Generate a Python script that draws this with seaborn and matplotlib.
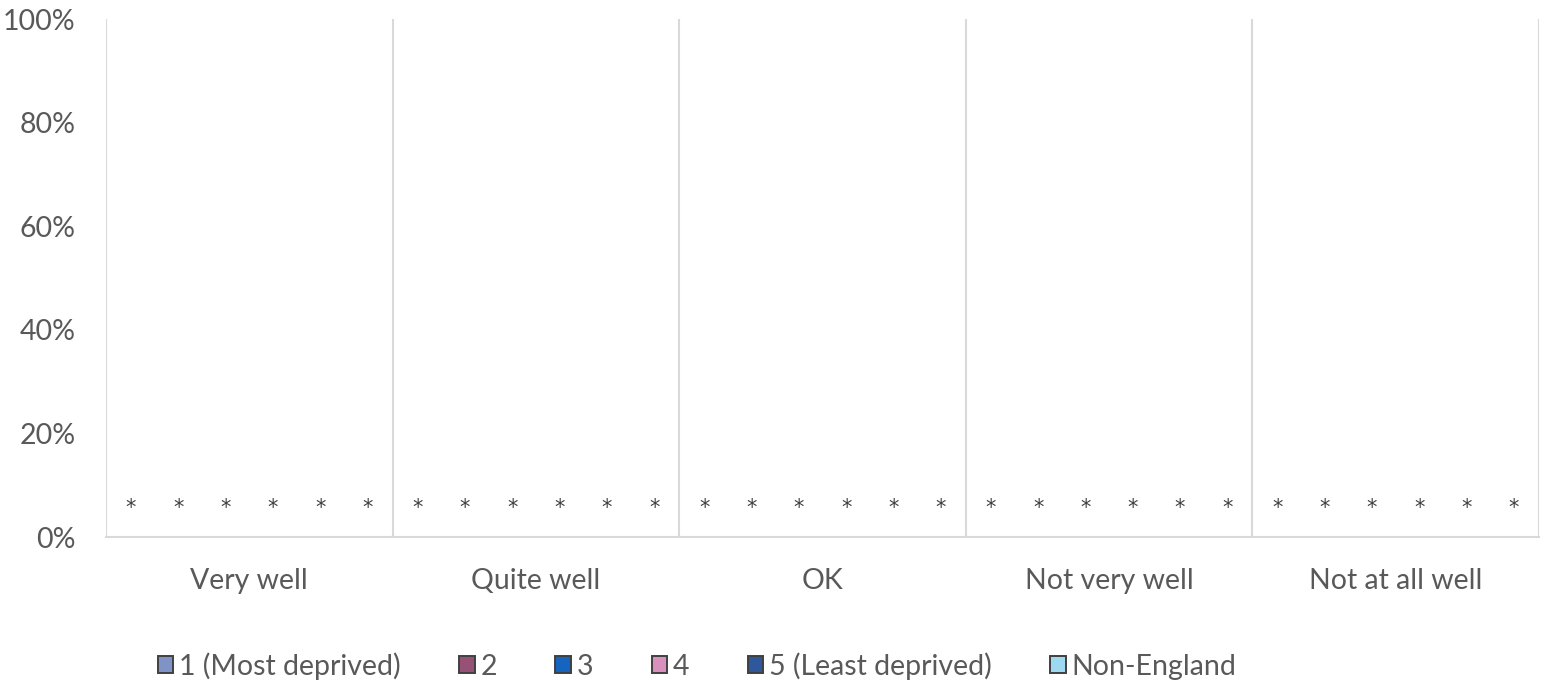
import matplotlib
matplotlib.use("Agg")
import matplotlib.pyplot as plt
import seaborn as sns
import pandas as pd
from matplotlib.patches import Patch

categories = ["Very well", "Quite well", "OK", "Not very well", "Not at all well"]
groups = ["1 (Most deprived)", "2", "3", "4", "5 (Least deprived)", "Non-England"]
colors = ["#7F93C6", "#975076", "#1565C0", "#DA90BC", "#2E579C", "#9ED9F2"]
# all values suppressed (shown as "*")
values = [
    [0, 0, 0, 0, 0, 0],
    [0, 0, 0, 0, 0, 0],
    [0, 0, 0, 0, 0, 0],
    [0, 0, 0, 0, 0, 0],
    [0, 0, 0, 0, 0, 0],
]
labels = "*"
yticks = [0, 20, 40, 60, 80, 100]

rows = []
for ci, c in enumerate(categories):
    for gi, g in enumerate(groups):
        rows.append({"category": c, "group": g, "value": values[ci][gi]})
df = pd.DataFrame(rows)

sns.set_theme(style="white")
plt.rcParams["font.family"] = ["Lato", "DejaVu Sans"]
txt = "#595959"

fig = plt.figure(figsize=(15.45, 6.85), dpi=100)
ax = fig.add_axes([106 / 1545, 1 - 537 / 685, (1539 - 106) / 1545, (537 - 19) / 685])

sns.barplot(data=df, x="category", y="value", hue="group", order=categories,
            hue_order=groups, palette=colors, width=0.99, linewidth=0,
            legend=False, ax=ax)

for p in ax.patches:
    cx = p.get_x() + p.get_width() / 2
    ax.text(cx, 5.6, labels, ha="center", va="center", fontsize=15,
            color="#404040", family="DejaVu Sans")

ax.set_ylim(0, 100)
ax.set_xlim(-0.5, len(categories) - 0.5)
ax.set_yticks(yticks)
ax.set_yticklabels([f"{v}%" for v in yticks])
for b in range(len(categories) + 1):
    ax.axvline(b - 0.5, color="#D9D9D9", lw=1.5, zorder=0)
for s in ["top", "right", "left"]:
    ax.spines[s].set_visible(False)
ax.spines["bottom"].set_color("#D9D9D9")
ax.spines["bottom"].set_linewidth(1.5)
ax.tick_params(axis="both", length=0, labelsize=20.5, colors=txt)
ax.tick_params(axis="x", pad=22)
ax.tick_params(axis="y", pad=22)
ax.set_xlabel("")
ax.set_ylabel("")

handles = [Patch(facecolor=c, edgecolor="#404040", linewidth=1.4, label=g)
           for c, g in zip(colors, groups)]
leg = fig.legend(handles=handles, loc="center", bbox_to_anchor=(697 / 1545, 1 - 666 / 685),
                 ncol=6, frameon=False, fontsize=20.5, handlelength=0.55, handleheight=0.55,
                 handletextpad=0.2, columnspacing=2.05, labelcolor=txt)

fig.savefig("out.png", dpi=100)
